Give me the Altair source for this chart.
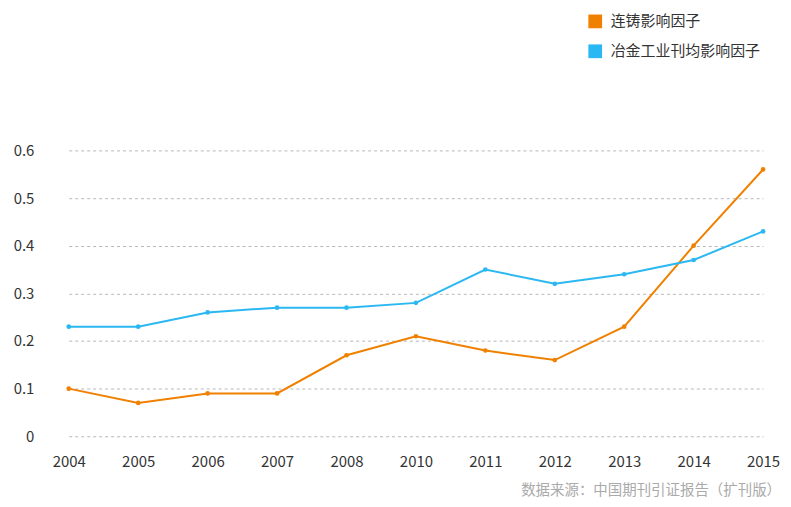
import altair as alt
import pandas as pd

years = ["2004", "2005", "2006", "2007", "2008", "2010", "2011", "2012", "2013", "2014", "2015"]
series_names = ["连铸影响因子", "冶金工业刊均影响因子"]
liancu = [0.10, 0.07, 0.09, 0.09, 0.17, 0.21, 0.18, 0.16, 0.23, 0.40, 0.56]
yejin = [0.23, 0.23, 0.26, 0.27, 0.27, 0.28, 0.35, 0.32, 0.34, 0.37, 0.43]
colors = ["#F08000", "#2BB8F2"]
source_text = "数据来源：中国期刊引证报告（扩刊版）"

rows = []
for y, v in zip(years, liancu):
    rows.append({"year": y, "value": v, "series": series_names[0]})
for y, v in zip(years, yejin):
    rows.append({"year": y, "value": v, "series": series_names[1]})
df = pd.DataFrame(rows)

FONT = "Noto Sans CJK SC"

x = alt.X("year:O", sort=years, title=None,
          scale=alt.Scale(type="point", padding=0),
          axis=alt.Axis(labelAngle=0, domain=False, ticks=False, grid=False,
                        labelFontSize=15, labelColor="#333333", labelPadding=18,
                        labelFont=FONT))
y = alt.Y("value:Q", title=None,
          scale=alt.Scale(domain=[0, 0.6], nice=False),
          axis=alt.Axis(values=[0, 0.1, 0.2, 0.3, 0.4, 0.5, 0.6], domain=False, ticks=False,
                        grid=True, gridDash=[3, 3], gridColor="#b8b8b8", gridWidth=1,
                        labelFontSize=15, labelColor="#333333", labelPadding=35,
                        labelFont=FONT, format="~g"))
color = alt.Color("series:N", sort=series_names,
                  scale=alt.Scale(domain=series_names, range=colors),
                  legend=alt.Legend(title=None, orient="none", legendX=521, legendY=-137,
                                    symbolType="square", symbolSize=190, symbolStrokeWidth=0,
                                    labelFontSize=15, labelColor="#333333", labelFont=FONT,
                                    rowPadding=14, labelOffset=8, direction="vertical"))

base = alt.Chart(df)
lines = base.mark_line(strokeWidth=2).encode(x=x, y=y, color=color)
points = base.mark_circle(size=22, opacity=1).encode(
    x=x, y=y,
    color=alt.Color("series:N", sort=series_names,
                    scale=alt.Scale(domain=series_names, range=colors), legend=None))

src = alt.Chart(pd.DataFrame({"t": [source_text]})).mark_text(
    align="right", baseline="middle", fontSize=14.5, color="#aaaaaa", font=FONT
).encode(text="t:N", x=alt.value(715), y=alt.value(342))

chart = alt.layer(lines, points, src).properties(
    width=697, height=287,
    autosize=alt.AutoSizeParams(type="none"),
    padding={"left": 61, "top": 142, "right": 20, "bottom": 61},
).configure(font=FONT).configure_view(stroke=None, strokeWidth=0)

chart.save("out.html", embed_options={"renderer": "svg", "actions": False})
